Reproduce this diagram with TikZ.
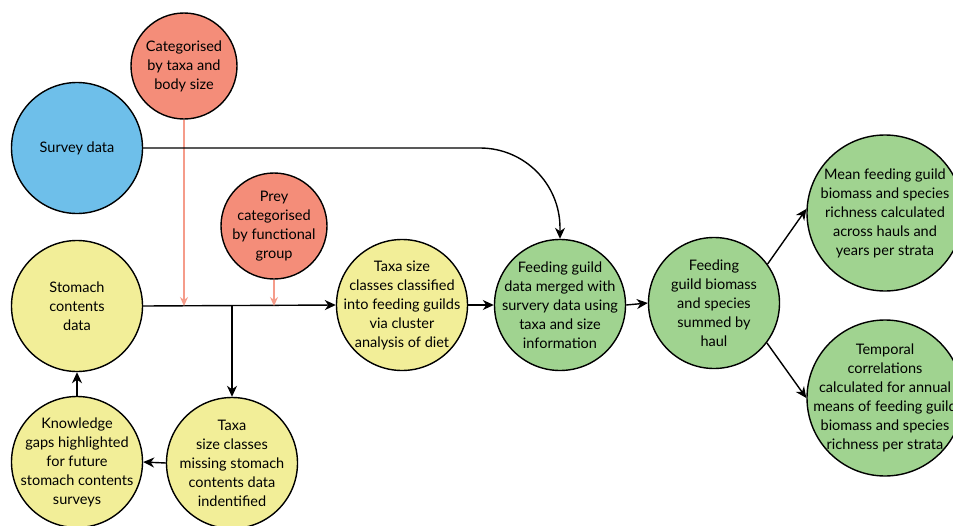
\documentclass[tikz,border=0pt]{standalone}
\usepackage{fontspec}
\setmainfont{Lato}
\usetikzlibrary{arrows.meta}
\definecolor{cblue}{HTML}{6EBFEA}
\definecolor{csalmon}{HTML}{F48D79}
\definecolor{cyellow}{HTML}{F2EE98}
\definecolor{cgreen}{HTML}{A0D390}
\definecolor{cpinkline}{HTML}{F59C8A}
\begin{document}
\begin{tikzpicture}[x=1pt,y=-1pt,
  bubble/.style={circle,draw=black,line width=1.4pt,inner sep=0pt},
  txt/.style={align=center,inner sep=0pt,font=\fontsize{14.5}{19}\selectfont},
  flow/.style={line width=1.4pt,-{Stealth[length=11pt,width=10pt,inset=3.5pt]}},
  pinkflow/.style={draw=cpinkline,line width=1.4pt,-{Stealth[length=9pt,width=8pt,inset=3pt]}}]
\path[use as bounding box,clip] (0,0) rectangle (953,525);
\node[bubble,fill=csalmon,minimum size=106pt,label={[txt]center:{Categorised\\by taxa and\\body size}}] (cat) at (184,66) {};
\node[bubble,fill=cblue,minimum size=131pt,label={[txt]center:{Survey data}}] (survey) at (77,148) {};
\node[bubble,fill=csalmon,minimum size=106pt,label={[txt]center:{Prey\\categorised\\by functional\\group}}] (prey) at (274,226) {};
\node[bubble,fill=cyellow,minimum size=131pt,label={[txt]center:{Stomach\\contents\\data}}] (stomach) at (77,306) {};
\node[bubble,fill=cyellow,minimum size=131pt,label={[txt]center:{Taxa size\\classes classified\\into feeding guilds\\via cluster\\analysis of diet}}] (taxasize) at (402,305) {};
\node[bubble,fill=cgreen,minimum size=131pt,label={[txt]center:{Feeding guild\\data merged with\\survery data using\\taxa and size\\information}}] (merged) at (560,305) {};
\node[bubble,fill=cgreen,minimum size=131pt,label={[txt]center:{Feeding\\guild biomass\\and species\\summed by\\haul}}] (biomass) at (714,303) {};
\node[bubble,fill=cgreen,minimum size=156pt,label={[txt]center:{Mean feeding guild\\biomass and species\\richness calculated\\across hauls and\\years per strata}}] (mean) at (885,213) {};
\node[bubble,fill=cgreen,minimum size=156pt,label={[txt]center:{Temporal\\correlations\\calculated for annual\\means of feeding guild\\biomass and species\\richness per strata}}] (temporal) at (885,398) {};
\node[bubble,fill=cyellow,minimum size=131pt,label={[txt]center:{Knowledge\\gaps highlighted\\for future\\stomach contents\\surveys}}] (knowledge) at (77,462) {};
\node[bubble,fill=cyellow,minimum size=131pt,label={[txt]center:{Taxa\\size classes\\missing stomach\\contents data\\indentified}}] (missing) at (232,463) {};
\coordinate (branch) at (232,306);
\coordinate (catend) at (184,306);
\coordinate (preyend) at (274,306);
\coordinate (bend) at (480,148);
% connectors
\draw[flow] (stomach.east) -- (taxasize.west);
\draw[flow] (branch) -- (missing.north);
\draw[pinkflow] (cat.south) -- (catend);
\draw[pinkflow] (prey.south) -- (preyend);
\draw[flow] (taxasize.east) -- (merged.west);
\draw[flow] (merged.east) -- (biomass.west);
\draw[flow] (biomass.36) -- (mean.177);
\draw[flow] (biomass.-37) -- (temporal.west);
\draw[flow] (missing.west) -- (knowledge.east);
\draw[flow] (knowledge.north) -- (stomach.south);
\draw[flow] (survey.east) -- (bend) arc[start angle=90,end angle=0,radius=80pt] -- (merged.north);
\end{tikzpicture}
\end{document}
